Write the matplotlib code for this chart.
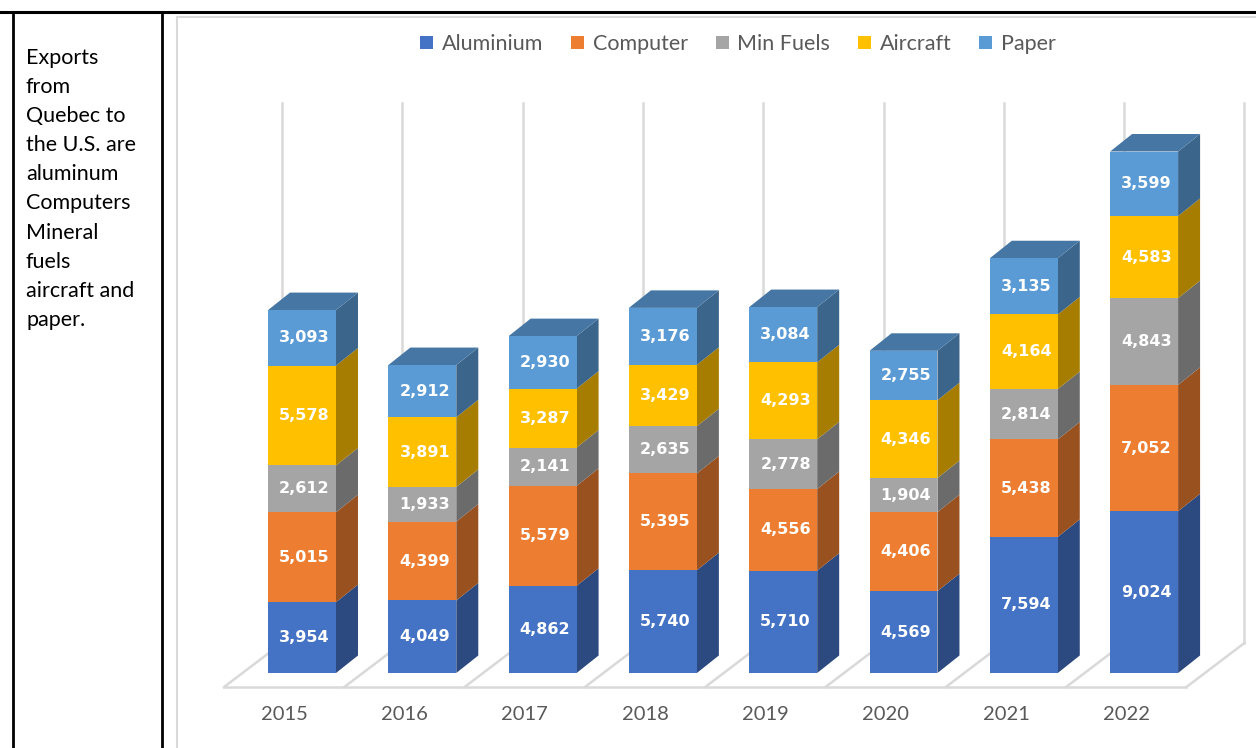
import matplotlib.pyplot as plt
from matplotlib.patches import Polygon
from matplotlib.lines import Line2D
from matplotlib.colors import to_rgb
import numpy as np

years = ['2015', '2016', '2017', '2018', '2019', '2020', '2021', '2022']
aluminium = [3954, 4049, 4862, 5740, 5710, 4569, 7594, 9024]
computer = [5015, 4399, 5579, 5395, 4556, 4406, 5438, 7052]
min_fuels = [2612, 1933, 2141, 2635, 2778, 1904, 2814, 4843]
aircraft = [5578, 3891, 3287, 3429, 4293, 4346, 4164, 4583]
paper = [3093, 2912, 2930, 3176, 3084, 2755, 3135, 3599]

series_names = ['Aluminium', 'Computer', 'Min Fuels', 'Aircraft', 'Paper']
series = [aluminium, computer, min_fuels, aircraft, paper]
colors = ['#4472C4', '#ED7D31', '#A5A5A5', '#FFC000', '#5B9BD5']

side_text = ['Exports', 'from', 'Quebec to', 'the U.S. are', 'aluminum',
             'Computers', 'Mineral', 'fuels', 'aircraft and', 'paper.']


def shade(c, f):
    r, g, b = to_rgb(c)
    return (r * f, g * f, b * f)


W, H = 1256, 748
fig = plt.figure(figsize=(W / 100, H / 100), dpi=100)

# table borders (word document cell around the chart)
def fig_line(x0, y0, x1, y1, color, lw):
    fig.add_artist(Line2D([x0 / W, x1 / W], [1 - y0 / H, 1 - y1 / H],
                          transform=fig.transFigure, color=color, lw=lw))

fig_line(0, 12, W, 12, 'black', 2.2)
fig_line(13, 12, 13, H, 'black', 2.0)
fig_line(162, 12, 162, H, 'black', 2.0)
fig_line(177, 17, 177, H, '#D9D9D9', 1.5)
fig_line(177, 17, W, 17, '#D9D9D9', 1.5)

for k, line in enumerate(side_text):
    fig.text(26 / W, 1 - (58 + 29.1 * k) / H, line, fontsize=15.5,
             family='Lato', color='black', va='center', ha='left')

# chart axes, scaled so one category = 120.3 px and value 0 sits at y=673
ax = fig.add_axes([177 / W, 0, 1 - 177 / W, 1])
px_x = 120.3
px_v = 0.01792
ax.set_xlim((177 - 302) / px_x, (W - 302) / px_x)
ax.set_ylim(-(H - 673) / px_v, 673 / px_v)
ax.axis('off')

x = np.arange(len(years))
width = 0.565
ddx = 22 / px_x
ddy = 17.5 / px_v

# floor and back wall (no back edge on the floor)
f_front = -14 / px_v
f_back = 30 / px_v
f_left = -0.648
f_dx = 0.482
wall_top = 570 / px_v
n = len(years)
grid_c = '#D9D9D9'
ax.plot([f_left, f_left + n], [f_front, f_front], color=grid_c, lw=1.8, zorder=1)
for k in range(n + 1):
    ax.plot([f_left + k, f_left + k + f_dx], [f_front, f_back], color=grid_c, lw=1.8, zorder=1)
    ax.plot([f_left + k + f_dx, f_left + k + f_dx], [f_back, wall_top], color=grid_c, lw=1.8, zorder=1)

# stacked bars with fake 3d sides
bottom = np.zeros(n)
handles = []
for s, (name, vals, c) in enumerate(zip(series_names, series, colors)):
    vals = np.array(vals, dtype=float)
    b = ax.bar(x, vals, width, bottom=bottom, color=c, label=name, zorder=3)
    handles.append(b)
    for i in range(n):
        xr = x[i] + width / 2
        y0 = bottom[i]
        y1 = bottom[i] + vals[i]
        side = Polygon([(xr, y0), (xr + ddx, y0 + ddy), (xr + ddx, y1 + ddy), (xr, y1)],
                       closed=True, facecolor=shade(c, 0.65), edgecolor='none', zorder=2.5)
        ax.add_patch(side)
        ax.text(x[i] + 0.02, (y0 + y1) / 2, f'{int(vals[i]):,}', ha='center', va='center',
                color='white', fontsize=11.5, fontweight='bold', zorder=5)
        if s == len(series) - 1:
            xl = x[i] - width / 2
            top = Polygon([(xl, y1), (xr, y1), (xr + ddx, y1 + ddy), (xl + ddx, y1 + ddy)],
                          closed=True, facecolor=shade(c, 0.77), edgecolor='none', zorder=2.5)
            ax.add_patch(top)
    bottom = bottom + vals

for i, yr in enumerate(years):
    ax.text(x[i] - 0.148, -41 / px_v, yr, ha='center', va='center',
            fontsize=14.5, family='Lato', color='#595959')

leg = ax.legend(handles=handles, loc='center', bbox_to_anchor=(0.52, 1 - 44 / H),
                ncol=5, frameon=False, handlelength=0.6, handleheight=0.6,
                handletextpad=0.4, columnspacing=1.3, prop={'family': 'Lato', 'size': 15.5})
for t in leg.get_texts():
    t.set_color('#595959')

fig.savefig('out.png', dpi=100)
